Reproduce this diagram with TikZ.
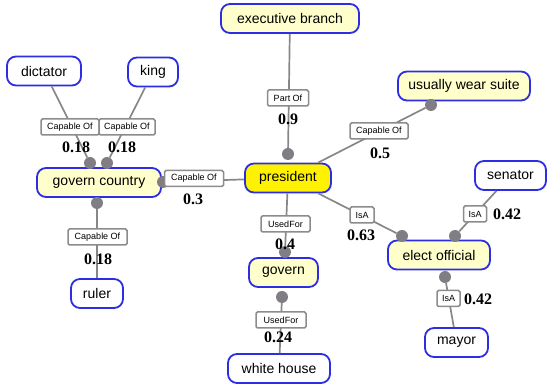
\documentclass[tikz,border=0pt]{standalone}
\usepackage{fontspec}
\setmainfont{Liberation Sans}
\newfontfamily\valfont{Liberation Serif}
\definecolor{nodeblue}{RGB}{45,45,225}
\definecolor{lightyel}{RGB}{255,255,204}
\definecolor{edgegray}{RGB}{135,135,135}
\definecolor{dotgray}{RGB}{128,126,132}
\definecolor{boxgray}{RGB}{140,140,140}
\tikzset{
  concept/.style={draw=nodeblue, line width=1.8pt, rounded corners=9pt, fill=white,
    minimum height=29pt, inner sep=0pt, font=\fontsize{14}{16}\selectfont},
  hub/.style={concept, fill=lightyel},
  central/.style={concept, fill=yellow},
  dotnode/.style={circle, fill=dotgray, minimum size=12pt, inner sep=0pt},
  rel/.style={draw=boxgray, line width=1.5pt, rounded corners=1.5pt, fill=white,
    minimum height=16pt, inner sep=1pt, font=\fontsize{9}{10}\selectfont},
  val/.style={font=\valfont\bfseries\fontsize{16}{16}\selectfont, inner sep=0pt},
  edge/.style={draw=edgegray, line width=1.7pt}
}
\begin{document}
\begin{tikzpicture}[x=1pt,y=-1pt]
\useasboundingbox (0,0) rectangle (547,387);
% concept nodes
\node[hub, minimum width=138pt] (exec) at (290,18.5) {executive branch};
\node[concept, minimum width=74pt] (dict) at (44,71) {dictator};
\node[concept, minimum width=50pt] (king) at (153,72) {king};
\node[hub, minimum width=132pt] (suite) at (464,86) {usually wear suite};
\node[hub, minimum width=124pt] (gc) at (99,182.5) {govern country};
\node[central, minimum width=86pt] (pres) at (288,178) {president};
\node[concept, minimum width=71pt] (sen) at (510.5,175.5) {senator};
\node[hub, minimum width=102pt] (eo) at (439,255) {elect official};
\node[hub, minimum width=69pt] (gov) at (283.5,272.5) {govern};
\node[concept, minimum width=52pt] (ruler) at (97,293.5) {ruler};
\node[concept, minimum width=63pt] (mayor) at (456.5,342.5) {mayor};
\node[concept, minimum width=102pt] (wh) at (279,368.5) {white house};
% dots (named anchors for the connectors)
\node[dotnode] (d1) at (90,163) {};
\node[dotnode] (d2) at (107,163) {};
\node[dotnode] (d3) at (163,182) {};
\node[dotnode] (d4) at (97,203) {};
\node[dotnode] (d5) at (288,154) {};
\node[dotnode] (d6) at (431,105) {};
\node[dotnode] (d7) at (285,252) {};
\node[dotnode] (d8) at (402,236) {};
\node[dotnode] (d9) at (455,236) {};
\node[dotnode] (d10) at (445,277) {};
\node[dotnode] (d11) at (282,297) {};
% connectors
\path[edge] (dict) -- (d1);
\path[edge] (king) -- (d2);
\path[edge] (pres) -- (d3);
\path[edge] (ruler) -- (d4);
\path[edge] (exec) -- (d5);
\path[edge] (pres) -- (d6);
\path[edge] (pres) -- (d7);
\path[edge] (pres) -- (d8);
\path[edge] (sen) -- (d9);
\path[edge] (mayor) -- (d10);
\path[edge] (wh) -- (d11);
% relation boxes
\node[rel, minimum width=58pt] (r1) at (70,127) {Capable Of};
\node[rel, minimum width=56pt] (r2) at (127,127) {Capable Of};
\node[rel, minimum width=59pt] (r3) at (194,178.5) {Capable Of};
\node[rel, minimum width=59pt] (r4) at (97.5,237) {Capable Of};
\node[rel, minimum width=41pt] (r5) at (288,98) {Part Of};
\node[rel, minimum width=58pt] (r6) at (379,131) {Capable Of};
\node[rel, minimum width=49pt] (r7) at (285.5,224) {UsedFor};
\node[rel, minimum width=24pt] (r8) at (362,215) {IsA};
\node[rel, minimum width=23pt] (r9) at (475,214) {IsA};
\node[rel, minimum width=23pt] (r10) at (448.5,298.5) {IsA};
\node[rel, minimum width=50pt] (r11) at (281,320) {UsedFor};
% values
\node[val] (v1) at (76,147) {0.18};
\node[val] (v2) at (122,147) {0.18};
\node[val] (v3) at (193,199) {0.3};
\node[val] (v4) at (98,259) {0.18};
\node[val] (v5) at (288,119) {0.9};
\node[val] (v6) at (380,153) {0.5};
\node[val] (v7) at (285,244) {0.4};
\node[val] (v8) at (361,235) {0.63};
\node[val] (v9) at (507,214) {0.42};
\node[val] (v10) at (478,299) {0.42};
\node[val] (v11) at (278,337) {0.24};
\end{tikzpicture}
\end{document}
